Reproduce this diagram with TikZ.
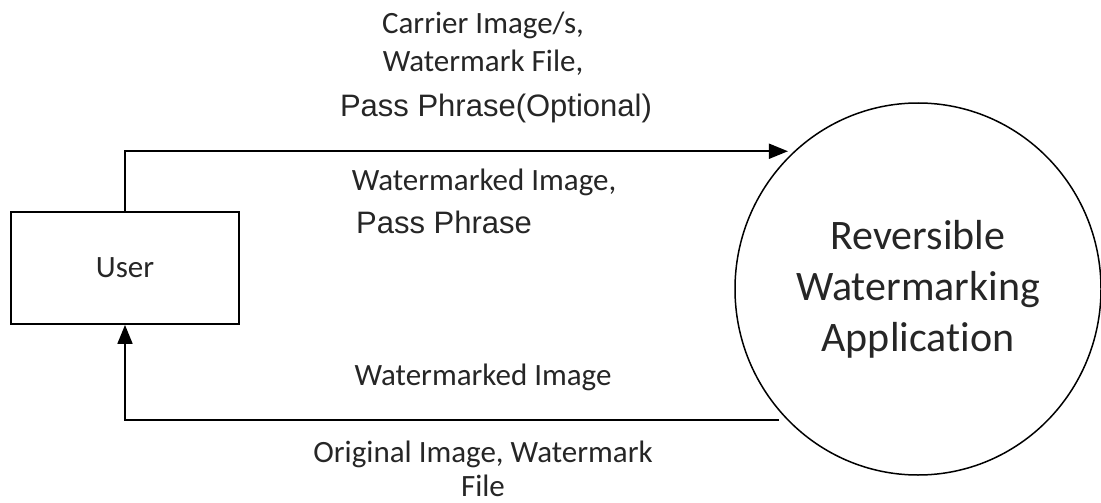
\documentclass[tikz,border=0pt]{standalone}
\usepackage{fontspec}
\setmainfont{Carlito}[Ligatures=NoCommon]
\newfontfamily\arialfont{Liberation Sans}
\usetikzlibrary{arrows.meta,shapes.geometric}
\definecolor{inkgray}{RGB}{38,38,38}

\begin{document}
\begin{tikzpicture}[x=1pt,y=-1pt,
  flow/.style={line width=1.8pt,-{Triangle[length=19pt,width=15pt]}},
  lbl/.style={text=inkgray,inner sep=0pt,anchor=base,font=\fontsize{31}{37}\selectfont},
  albl/.style={lbl,font=\arialfont\fontsize{31}{37}\selectfont}
]
\useasboundingbox (0,0) rectangle (1101,503);

% external entity
\node[draw,line width=1.8pt,minimum width=228pt,minimum height=112pt,inner sep=0pt,
      text=inkgray,font=\fontsize{31}{37}\selectfont] (user) at (125,268) {User};

% process
\node[ellipse,draw,line width=1.5pt,minimum width=366pt,minimum height=372pt,inner sep=0pt,
      text=inkgray,align=center,font=\fontsize{42}{51}\selectfont] (app) at (918,289)
      {Reversible\\Watermarking\\Application};

% data flows
\draw[flow,shorten >=6pt] (user.north) |- (app.132);
\draw[flow,shorten <=8pt] (app.225) -| (user.south);

% labels of the upper flow
\node[lbl]  (c1) at (483,34)  {Carrier Image/s,};
\node[lbl]  (c2) at (483,72)  {Watermark File,};
\node[albl] (c3) at (496,117) {Pass Phrase(Optional)};
\node[lbl]  (r1) at (484,190) {Watermarked Image,};
\node[albl] (r2) at (444,233) {Pass Phrase};

% labels of the lower flow
\node[lbl] (b1) at (483,385) {Watermarked Image};
\node[lbl] (b2) at (483,462) {Original Image, Watermark};
\node[lbl] (b3) at (483,496) {File};
\end{tikzpicture}
\end{document}
